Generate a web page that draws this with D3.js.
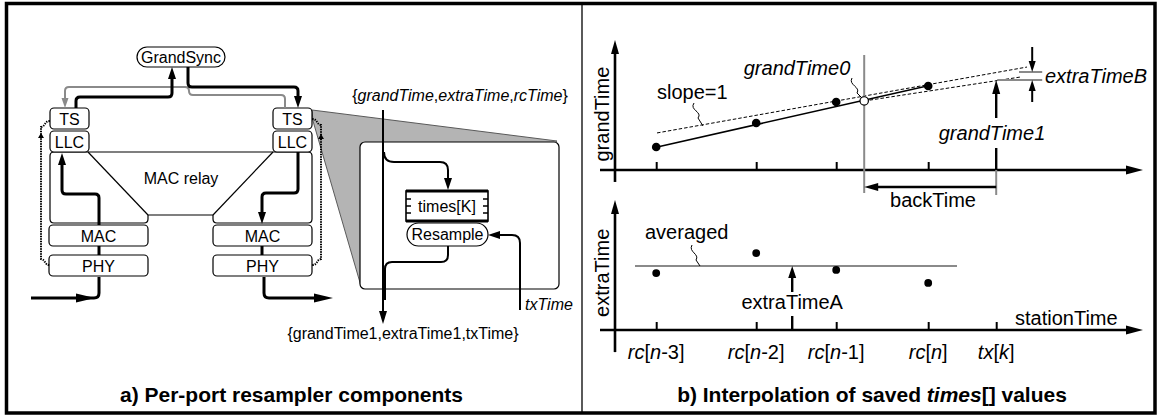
<!DOCTYPE html>
<html><head><meta charset="utf-8">
<script src="https://cdn.jsdelivr.net/npm/d3@7"></script>
<style>body{margin:0;background:#fff}svg{display:block}text{font-family:"Liberation Sans",Arial,Helvetica,sans-serif}</style>
</head><body><script>
// ---------------- data ----------------
const stationTicks = ["rc[n-3]", "rc[n-2]", "rc[n-1]", "rc[n]", "tx[k]"];
const stationValues = [1.03, 3.53, 5.53, 7.83, 9.53];
const grandTimeValues = [1.77, 3.62, 5.23, 6.46];
const extraTimeValues = [4.38, 5.92, 4.62, 3.62];
const averagedExtra = 4.92;
const extraTimeAx = 4.43;
const grandTime0Point = [6.23, 5.31];
const fitLine = [[1.03, 1.75], [7.83, 6.48]];
const slopeOneLine = [[1.05, 2.85], [10.3, 7.92]];
const projectedLine = [[6.23, 5.31], [10.13, 7.15]];
const extraTimeBLevels = [7.54, 6.92];
const txTimeValue = 9.53;

const W = 1159, H = 417, GRAY = "#8a8a8a";
const svg = d3.select("body").append("svg").attr("width", W).attr("height", H);

function arrowHead(g, x, y, deg, len, wid, fill) {
  const a = deg * Math.PI / 180, ux = Math.cos(a), uy = Math.sin(a);
  const bx = x - ux * len, by = y - uy * len, px = -uy * wid / 2, py = ux * wid / 2;
  g.append("path").attr("d", `M${x},${y}L${bx + px},${by + py}L${bx - px},${by - py}Z`).attr("fill", fill || "#000");
}
function rrect(g, x, y, w, h, r, sw) {
  return g.append("rect").attr("x", x).attr("y", y).attr("width", w).attr("height", h)
    .attr("rx", r).attr("ry", r).attr("fill", "#fff").attr("stroke", "#000").attr("stroke-width", sw || 1.2);
}
function label(g, x, y, str, o) {
  o = o || {};
  return g.append("text").attr("x", x).attr("y", y).text(str)
    .attr("font-size", o.size || 16).attr("text-anchor", o.anchor || "middle")
    .attr("font-style", o.italic ? "italic" : "normal").attr("font-weight", o.bold ? "bold" : "normal")
    .attr("fill", o.fill || "#000");
}
function richLabel(g, x, y, str, o) {
  o = o || {};
  const t = g.append("text").attr("x", x).attr("y", y).attr("font-size", o.size || 16)
    .attr("text-anchor", o.anchor || "middle").attr("font-weight", o.bold ? "bold" : "normal");
  (str.match(/[a-zA-Z]+|[^a-zA-Z]+/g) || []).forEach(p => {
    t.append("tspan").text(p).attr("font-style", /^[a-zA-Z]+$/.test(p) ? "italic" : "normal");
  });
  return t;
}
function path(g, d, sw, col, dash) {
  const p = g.append("path").attr("d", d).attr("fill", "none").attr("stroke", col || "#000").attr("stroke-width", sw || 1);
  if (dash) p.attr("stroke-dasharray", dash);
  return p;
}

// ---------------- frame ----------------
svg.append("rect").attr("x", 6.5).attr("y", 3.5).attr("width", 1148.5).attr("height", 409.5)
  .attr("fill", "none").attr("stroke", "#000").attr("stroke-width", 3.5);
path(svg, "M582,5 V412", 1.3);

// ---------------- panel a ----------------
const A = svg.append("g");
// zoom wedge
A.append("path").attr("d", "M312,110 L557,141 L361,286 L313,121 Z").attr("fill", "#b4b4b4")
  .attr("stroke", "#5a5a5a").attr("stroke-width", 1);
rrect(A, 360, 142, 199, 147, 5, 1.2);

// MAC relay outline
path(A, "M50,156 Q50,152 54,152 H308 Q312,152 312,156 V219 Q312,223 308,223 H217 Q213,223 213,219 V215 H148 V219 Q148,223 144,223 H54 Q50,223 50,219 Z", 1.2);
path(A, "M88,152 L148,215", 1.2);
path(A, "M273,152 L213,215", 1.2);
label(A, 181, 184, "MAC relay");

// boxes
[[50, 108, "TS"], [50, 131, "LLC"], [273, 108, "TS"], [273, 131, "LLC"]].forEach(b => {
  rrect(A, b[0], b[1], 39, 21, 4);
  label(A, b[0] + 19.5, b[1] + 16.5, b[2]);
});
[[49, 225, "MAC"], [49, 255, "PHY"], [213, 225, "MAC"], [213, 255, "PHY"]].forEach(b => {
  rrect(A, b[0], b[1], 99, 21, 4);
  label(A, b[0] + 49.5, b[1] + 16.5, b[2]);
});
rrect(A, 137, 47, 88, 20, 10);
label(A, 181, 63, "GrandSync");

// gray return arrow
path(A, "M285,108 V99 Q285,95 281,95 H193 Q189,95 189,91 Q189,87 185,87 H69 Q65,87 65,91 V100", 2, GRAY);
arrowHead(A, 65, 108, 90, 10, 7, GRAY);
// black arrows to/from GrandSync
path(A, "M76,108 V101 Q76,97 80,97 H168 Q172,97 172,93 V77", 3);
arrowHead(A, 172, 67, -90, 12, 8);
path(A, "M188,67 V83 Q188,87 192,87 H294 Q298,87 298,91 V98", 3);
arrowHead(A, 298, 108, 90, 12, 8);
// left column upward
path(A, "M31,298 H94 Q99,298 99,293 V277", 3);
arrowHead(A, 95, 298, 0, 19, 9);
path(A, "M99,255 V246", 3);
path(A, "M99,225 V198 Q99,194 95,194 H66 Q62,194 62,190 V164", 3);
arrowHead(A, 62, 153, -90, 12, 8);
// right column downward
path(A, "M298,152 V189 Q298,193 294,193 H266 Q262,193 262,197 V213", 3);
arrowHead(A, 262, 224, 90, 12, 8);
path(A, "M262,246 V255", 3);
path(A, "M264,277 V293 Q264,298 269,298 H316", 3);
arrowHead(A, 333, 298, 0, 19, 9);
// dotted loops
path(A, "M50,121 C44,121 46,126 41,127 V259 C46,260 44,265 50,265", 2, "#000", "1.4,1.1");
arrowHead(A, 41, 133, -90, 5, 6);
path(A, "M312,119 C318,119 316,124 321,125 V259 C316,260 318,265 312,265", 2, "#000", "1.4,1.1");
arrowHead(A, 321, 134, -90, 5, 6);

// detail box contents
richLabel(A, 460, 101, "{grandTime,extraTime,rcTime}", { size: 16 });
path(A, "M383,110 V312", 2);
arrowHead(A, 383, 324, 90, 13, 8);
path(A, "M384,152 Q384,162 394,162 H440 Q448,162 448,170 V178", 2);
arrowHead(A, 448, 190, 90, 12, 8);
// times[K] register
A.append("rect").attr("x", 406).attr("y", 191).attr("width", 82).attr("height", 30).attr("fill", "#fff")
  .attr("stroke", "#000").attr("stroke-width", 1.6);
path(A, "M406,191 H488 M406,221 H488", 3);
[199, 206, 213].forEach(y => { path(A, `M406,${y} H411 M488,${y} H483`, 1.4); });
label(A, 447, 212, "times[K]");
rrect(A, 407, 223, 81, 23, 11.5);
label(A, 447.5, 240, "Resample");
path(A, "M448,246 V255 Q448,262 441,262 H392 Q385,262 385,269 V300", 2);
path(A, "M520,310 V243 Q520,235 512,235 H499", 2);
arrowHead(A, 488, 235, 180, 12, 8);
label(A, 525, 310, "txTime", { italic: true, anchor: "start" });
label(A, 403, 339, "{grandTime1,extraTime1,txTime}");
label(A, 291.5, 402, "a) Per-port resampler components", { size: 21, bold: true });

// ---------------- panel b ----------------
const B = svg.append("g");
const xS = d3.scaleLinear().domain([0, 13.2]).range([615, 1143]);
const yT = d3.scaleLinear().domain([0, 10]).range([170, 40]);
const yB = d3.scaleLinear().domain([0, 10]).range([330, 200]);
const lineT = d3.line().x(d => xS(d[0])).y(d => yT(d[1]));

// axes lines with arrows
path(B, `M${xS(0)},${yT(-0.92)} V${yT(0) - 116}`, 2.6);
arrowHead(B, xS(0), yT(10), -90, 14, 8);
path(B, `M600,${yT(0)} H${xS(13.2) - 15}`, 2.6);
arrowHead(B, xS(13.2), yT(0), 0, 17, 9);
path(B, `M${xS(0)},${yB(-1.7)} V${yB(10) + 13}`, 2.6);
arrowHead(B, xS(0), yB(10), -90, 14, 8);
path(B, `M600,${yB(0)} H${xS(13.2) - 15}`, 2.6);
arrowHead(B, xS(13.2), yB(0), 0, 17, 9);

// tick marks via d3 axes
function ticks(y, vals) {
  const g = B.append("g").attr("transform", `translate(0,${y})`)
    .call(d3.axisTop(xS).tickValues(vals).tickSize(8).tickSizeOuter(0).tickFormat(""));
  g.select(".domain").remove();
  g.selectAll(".tick line").attr("stroke", "#000").attr("stroke-width", 2);
}
ticks(yT(0), stationValues.slice(0, 4));
ticks(yB(0), stationValues);

// axis titles
B.append("text").attr("transform", `translate(609,${yT(4.3)}) rotate(-90)`).attr("text-anchor", "middle")
  .attr("font-size", 20).text("grandTime");
B.append("text").attr("transform", `translate(609,${yB(4.4)}) rotate(-90)`).attr("text-anchor", "middle")
  .attr("font-size", 20).text("extraTime");
label(B, 1015, 325, "stationTime", { size: 20, anchor: "start" });
stationTicks.forEach((t, i) => richLabel(B, xS(stationValues[i]), 359, t, { size: 20 }));

// top chart lines
path(B, lineT(slopeOneLine), 1, "#000", "3.5,2");
path(B, lineT(projectedLine), 1, "#000", "3.5,2");
path(B, lineT(fitLine), 1.5);
// gray vertical markers
const x0 = xS(grandTime0Point[0]), xT = xS(txTimeValue);
path(B, `M${x0},55 V193`, 2, GRAY);
path(B, `M${xT},${yT(0)} V195`, 2, GRAY);
// extraTimeB markers
path(B, `M${xS(10.1)},${yT(extraTimeBLevels[0])} H${xS(10.68)}`, 2, GRAY);
path(B, `M${xT + 1},${yT(extraTimeBLevels[1])} H${xS(10.68)}`, 2, GRAY);
const xb = xS(10.43);
path(B, `M${xb},47 V${yT(extraTimeBLevels[0]) - 10}`, 2);
arrowHead(B, xb, yT(extraTimeBLevels[0]), 90, 11, 7);
path(B, `M${xb},102 V${yT(extraTimeBLevels[1]) + 10}`, 2);
arrowHead(B, xb, yT(extraTimeBLevels[1]), -90, 11, 7);
label(B, 1045, 83, "extraTimeB", { size: 20, italic: true, anchor: "start" });
// grandTime1 arrow
path(B, `M${xT},${yT(0)} V148 M${xT},118 V${yT(extraTimeBLevels[1]) + 12}`, 2.4);
arrowHead(B, xT, yT(extraTimeBLevels[1]), -90, 14, 8);
label(B, 992, 140, "grandTime1", { size: 20, italic: true });
// backTime
path(B, `M${xT},187 H${x0 + 13}`, 2.4);
arrowHead(B, x0, 187, 180, 14, 8);
label(B, 933, 207, "backTime", { size: 20 });
// points
B.selectAll(".gp").data(grandTimeValues).enter().append("circle").attr("class", "gp")
  .attr("cx", (d, i) => xS(stationValues[i])).attr("cy", d => yT(d)).attr("r", 4.3).attr("fill", "#000");
B.append("circle").attr("cx", x0).attr("cy", yT(grandTime0Point[1])).attr("r", 4.2)
  .attr("fill", "#fff").attr("stroke", "#000").attr("stroke-width", 1.2);
// labels with leaders
label(B, 657, 99, "slope=1", { size: 20, anchor: "start" });
path(B, "M694,103 C689,110 703,112 698,118 L703,126", 1);
label(B, 797, 75, "grandTime0", { size: 20, italic: true });
path(B, "M852,78 C848,85 861,87 857,93 L862,98", 1);

// bottom chart
path(B, `M${xS(0.5)},${yB(averagedExtra)} H${xS(8.55)}`, 2, GRAY);
B.selectAll(".ep").data(extraTimeValues).enter().append("circle").attr("class", "ep")
  .attr("cx", (d, i) => xS(stationValues[i])).attr("cy", d => yB(d)).attr("r", 3.9).attr("fill", "#000");
label(B, 645, 239, "averaged", { size: 20, anchor: "start" });
path(B, "M692,245 C688,252 700,254 696,260 L700,266", 1);
const xa = xS(extraTimeAx);
path(B, `M${xa},${yB(0)} V316 M${xa},292 V${yB(averagedExtra) + 11}`, 2.4);
arrowHead(B, xa, yB(averagedExtra), -90, 12, 8);
label(B, xa, 309, "extraTimeA", { size: 20 });

// caption b
const cb = B.append("text").attr("x", 872).attr("y", 402).attr("text-anchor", "middle")
  .attr("font-size", 21).attr("font-weight", "bold");
cb.append("tspan").text("b) Interpolation of saved ");
cb.append("tspan").text("times").attr("font-style", "italic");
cb.append("tspan").text("[] values");
</script></body></html>
